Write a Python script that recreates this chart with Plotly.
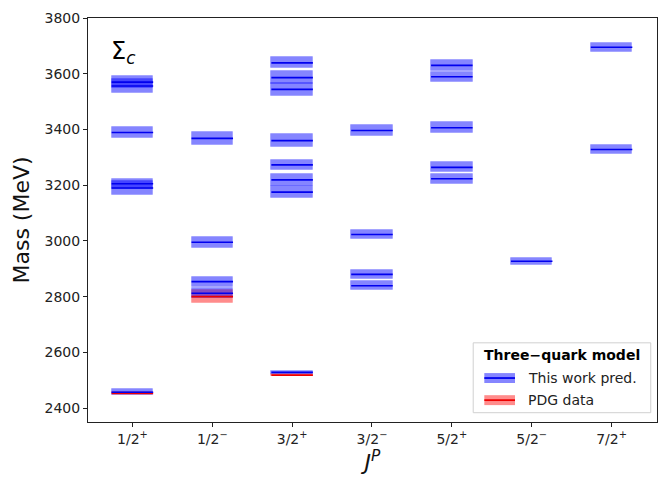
import plotly.graph_objects as go

# ---------------- data ----------------
categories = ["1/2+", "1/2-", "3/2+", "3/2-", "5/2+", "5/2-", "7/2+"]
tick_labels = ["1/2<sup>+</sup>", "1/2<sup>\u2212</sup>", "3/2<sup>+</sup>", "3/2<sup>\u2212</sup>",
               "5/2<sup>+</sup>", "5/2<sup>\u2212</sup>", "7/2<sup>+</sup>"]

# This work predictions: J^P category, mass (MeV), half band (MeV)
pred_jp = ["1/2+", "1/2+", "1/2+", "1/2+", "1/2+", "1/2+",
           "1/2-", "1/2-", "1/2-", "1/2-",
           "3/2+", "3/2+", "3/2+", "3/2+", "3/2+", "3/2+", "3/2+", "3/2+",
           "3/2-", "3/2-", "3/2-", "3/2-",
           "5/2+", "5/2+", "5/2+", "5/2+", "5/2+",
           "5/2-",
           "7/2+", "7/2+"]
pred_mass = [3570, 3556, 3389, 3205, 3190, 2457,
             3368, 2995, 2854, 2812,
             3639, 3586, 3544, 3360, 3273, 3219, 3175, 2528,
             3396, 3023, 2880, 2839,
             3630, 3589, 3406, 3264, 3223,
             2927,
             3695, 3328]
pred_err = [22, 25, 19, 18, 24, 10,
            23, 19, 18, 18,
            20, 24, 24, 24, 19, 21, 21, 5,
            20, 17, 15, 16,
            21, 19, 20, 18, 18,
            12,
            17, 15]

# PDG data
pdg_jp = ["1/2+", "1/2-", "3/2+"]
pdg_mass = [2453, 2800, 2518]
pdg_err = [3, 22, 3]

HALF_W = 0.26
BLUE_BAND = "rgba(0,0,255,0.48)"
BLUE_LINE = "#0000ee"
RED_BAND = "rgba(255,0,0,0.45)"
RED_LINE = "#ee0000"

idx = {c: i for i, c in enumerate(categories)}


def line_xy(jps, masses):
    xs, ys = [], []
    for j, m in zip(jps, masses):
        i = idx[j]
        xs += [i - HALF_W, i + HALF_W, None]
        ys += [m, m, None]
    return xs, ys


fig = go.Figure()

# red bands (PDG)
fig.add_trace(go.Bar(
    x=[idx[j] for j in pdg_jp],
    base=[m - e for m, e in zip(pdg_mass, pdg_err)],
    y=[2 * e for e in pdg_err],
    width=2 * HALF_W,
    marker=dict(color=RED_BAND, line=dict(color="rgba(255,0,0,0.15)", width=1)),
    showlegend=False, hoverinfo="skip"))

# blue bands (predictions)
fig.add_trace(go.Bar(
    x=[idx[j] for j in pred_jp],
    base=[m - e for m, e in zip(pred_mass, pred_err)],
    y=[2 * e for e in pred_err],
    width=2 * HALF_W,
    marker=dict(color=BLUE_BAND, line=dict(color="rgba(0,0,255,0.15)", width=1)),
    showlegend=False, hoverinfo="skip"))

# red centre lines
xs, ys = line_xy(pdg_jp, pdg_mass)
fig.add_trace(go.Scatter(x=xs, y=ys, mode="lines",
                         line=dict(color=RED_LINE, width=1.8),
                         showlegend=False, hoverinfo="skip"))

# blue centre lines
xs, ys = line_xy(pred_jp, pred_mass)
fig.add_trace(go.Scatter(x=xs, y=ys, mode="lines",
                         line=dict(color=BLUE_LINE, width=1.6),
                         showlegend=False, hoverinfo="skip"))

FONT = "DejaVu Sans"
fig.update_layout(
    width=668, height=477,
    margin=dict(l=88, r=10, t=15, b=55),
    paper_bgcolor="white", plot_bgcolor="white",
    barmode="overlay", bargap=0,
    showlegend=False,
    font=dict(family=FONT, size=14, color="#222222"),
)

fig.update_xaxes(
    range=[-0.556, 6.569],
    tickmode="array", tickvals=list(range(len(categories))), ticktext=tick_labels,
    ticks="outside", ticklen=4, tickwidth=1, tickcolor="#222222",
    showline=True, linecolor="#222222", linewidth=1, mirror=True,
    showgrid=False, zeroline=False,
    tickfont=dict(family=FONT, size=14, color="#222222"),
    title=dict(text="<i>J</i><sup><i>P</i></sup>", font=dict(family=FONT, size=22, color="#111111"),
               standoff=4),
)
fig.update_yaxes(
    range=[2350, 3800],
    tickmode="linear", tick0=2400, dtick=200,
    ticks="outside", ticklen=4, tickwidth=1, tickcolor="#222222",
    showline=True, linecolor="#222222", linewidth=1, mirror=True,
    showgrid=False, zeroline=False,
    tickfont=dict(family=FONT, size=14, color="#222222"),
    title=dict(text="Mass (MeV)", font=dict(family=FONT, size=22, color="#111111"), standoff=8),
)

# Sigma_c label
fig.add_annotation(x=-0.29, y=3675, xref="x", yref="y", text="\u03a3<sub><i>c</i></sub>",
                   showarrow=False, xanchor="left", yanchor="middle",
                   font=dict(family=FONT, size=24, color="black"))

# ---------- legend (manual) ----------
fig.add_shape(type="rect", xref="paper", yref="paper", x0=0.677, x1=0.989, y0=0.023, y1=0.196,
              line=dict(color="#d0d0d0", width=1), fillcolor="rgba(255,255,255,0.85)", layer="above")
fig.add_annotation(x=0.833, y=0.166, xref="paper", yref="paper", text="<b>Three\u2212quark model</b>",
                   showarrow=False, xanchor="center", yanchor="middle",
                   font=dict(family=FONT, size=14, color="black"))
legend_items = [("This work pred.", BLUE_BAND, BLUE_LINE, 0.1088),
                ("PDG data", RED_BAND, RED_LINE, 0.0541)]
for label, band, line, yc in legend_items:
    fig.add_shape(type="rect", xref="paper", yref="paper", x0=0.6965, x1=0.7504,
                  y0=yc - 0.0123, y1=yc + 0.0123, fillcolor=band, line=dict(width=0), layer="above")
    fig.add_shape(type="line", xref="paper", yref="paper", x0=0.6965, x1=0.7504,
                  y0=yc, y1=yc, line=dict(color=line, width=1.8), layer="above")
    fig.add_annotation(x=0.770, y=yc, xref="paper", yref="paper", text=label,
                       showarrow=False, xanchor="left", yanchor="middle",
                       font=dict(family=FONT, size=14, color="#222222"))

fig.write_html("out.html")
